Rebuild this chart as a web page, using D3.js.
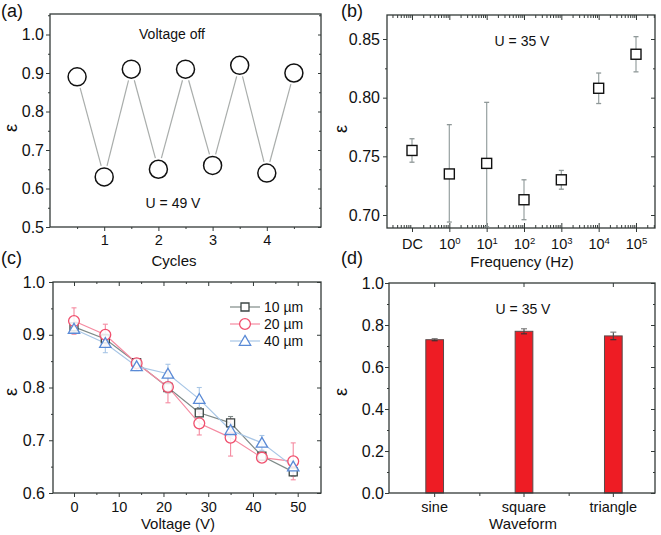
<!DOCTYPE html>
<html><head><meta charset="utf-8">
<script src="https://cdn.jsdelivr.net/npm/d3@7"></script>
<style>body{margin:0;background:#fff}</style>
</head><body><svg id="c" width="661" height="535"></svg>
<script>
// ---------- data ----------
// (a) cycling
const cycleX = [0.5, 1, 1.5, 2, 2.5, 3, 3.5, 4, 4.5];
const cycleEps = [0.89, 0.63, 0.91, 0.65, 0.91, 0.66, 0.92, 0.64, 0.90];
const cycleTicks = [1, 2, 3, 4];
const cycleYTicks = [0.5, 0.6, 0.7, 0.8, 0.9, 1.0];
// (b) frequency (DC is drawn in the 10^-1 slot)
const freqLabels = ["DC", "0", "1", "2", "3", "4", "5"];
const freqHz = [0.1, 1, 10, 100, 1000, 10000, 100000];
const freqEps = [0.755, 0.735, 0.744, 0.713, 0.730, 0.808, 0.837];
const freqErrLo = [0.745, 0.694, 0.690, 0.696, 0.722, 0.795, 0.822];
const freqErrHi = [0.765, 0.777, 0.796, 0.730, 0.738, 0.821, 0.852];
const freqYTicks = [0.70, 0.75, 0.80, 0.85];
// (c) voltage
const voltages = [0, 7, 14, 21, 28, 35, 42, 49];
const thicknessLabels = ["10 µm", "20 µm", "40 µm"];
const eps10 = [0.915, 0.892, 0.847, 0.800, 0.752, 0.733, 0.670, 0.640];
const eps20 = [0.926, 0.900, 0.846, 0.801, 0.732, 0.705, 0.667, 0.660];
const eps40 = [0.911, 0.884, 0.840, 0.826, 0.778, 0.719, 0.695, 0.650];
const err10 = [0.005, 0.005, 0.004, 0.010, 0.010, 0.012, 0.004, 0.008];
const err20 = [0.025, 0.020, 0.005, 0.030, 0.022, 0.035, 0.005, 0.035];
const err40 = [0.008, 0.018, 0.008, 0.018, 0.022, 0.012, 0.014, 0.010];
const voltXTicks = [0, 10, 20, 30, 40, 50];
const voltYTicks = [0.6, 0.7, 0.8, 0.9, 1.0];
// (d) waveform
const waveforms = ["sine", "square", "triangle"];
const waveEps = [0.730, 0.770, 0.748];
const waveErr = [0.005, 0.012, 0.018];
const waveYTicks = [0.0, 0.2, 0.4, 0.6, 0.8, 1.0];

// ---------- helpers ----------
const FONT = '"Liberation Sans", Arial, Helvetica, sans-serif';
const FRAME = "#333a38";
const svg = d3.select("#c");

function axis(orient, scale, pos, values, size, fmt, fs, pad) {
  const gen = ({left: d3.axisLeft, right: d3.axisRight, top: d3.axisTop, bottom: d3.axisBottom})[orient](scale)
    .tickValues(values).tickSize(size).tickSizeOuter(0)
    .tickFormat(fmt || (() => "")).tickPadding(pad == null ? 3 : pad);
  const a = svg.append("g")
    .attr("transform", (orient === "left" || orient === "right") ? `translate(${pos},0)` : `translate(0,${pos})`)
    .call(gen);
  a.select(".domain").remove();
  a.selectAll("line").attr("stroke", FRAME).attr("stroke-width", 1);
  a.selectAll("text").attr("font-size", fs || 15).attr("font-family", FONT).attr("fill", "#111");
  return a;
}
function frame(x0, x1, y0, y1) {
  svg.append("rect").attr("x", x0).attr("y", y0).attr("width", x1 - x0).attr("height", y1 - y0)
    .attr("fill", "none").attr("stroke", FRAME).attr("stroke-width", 1.3);
}
function text(x, y, s, fs, anchor) {
  return svg.append("text").attr("x", x).attr("y", y).text(s)
    .attr("font-family", FONT).attr("font-size", fs).attr("fill", "#111")
    .attr("text-anchor", anchor || "middle");
}
function yTitle(x, y) {
  svg.append("text").attr("transform", `translate(${x},${y}) rotate(-90)`)
    .attr("text-anchor", "middle").attr("dominant-baseline", "central")
    .attr("font-family", FONT).attr("font-size", 18)
    .attr("fill", "#111").text("ε");
}

// ================= (a) =================
{
  const L = 50, R = 321, T = 14, B = 227;
  const x = d3.scaleLinear().domain([0, 5]).range([L, R]);
  const y = d3.scaleLinear().domain([0.5, 1.0]).range([B, 34.5]);
  const ymin = [0.55, 0.65, 0.75, 0.85, 0.95, 1.05].filter(v => y(v) > T + 1);
  axis("left", y, L, cycleYTicks, 4, d3.format(".1f"), 16, 2);
  axis("left", y, L, ymin, 2);
  axis("right", y, R, cycleYTicks, -3);
  axis("right", y, R, ymin, -2);
  axis("bottom", x, B, cycleTicks, 4, d3.format("d"), 14.5, 4);
  axis("bottom", x, B, [0.5, 1.5, 2.5, 3.5, 4.5], 2);
  frame(L, R, T, B);
  const r = 9;
  const g = svg.append("g");
  for (let i = 0; i < cycleX.length - 1; i++) {
    const x1 = x(cycleX[i]), y1 = y(cycleEps[i]), x2 = x(cycleX[i + 1]), y2 = y(cycleEps[i + 1]);
    const len = Math.hypot(x2 - x1, y2 - y1), ux = (x2 - x1) / len, uy = (y2 - y1) / len, gap = r + 2.5;
    g.append("line").attr("x1", x1 + ux * gap).attr("y1", y1 + uy * gap)
      .attr("x2", x2 - ux * gap).attr("y2", y2 - uy * gap)
      .attr("stroke", "#a9adab").attr("stroke-width", 1.2);
  }
  g.selectAll("circle").data(cycleX).join("circle")
    .attr("cx", d => x(d)).attr("cy", (d, i) => y(cycleEps[i])).attr("r", r)
    .attr("fill", "#fff").attr("stroke", "#111").attr("stroke-width", 1.5);
  text(172, 39, "Voltage off", 14);
  text(173, 208, "U = 49 V", 14);
  text(174, 266, "Cycles", 15);
  yTitle(11, 128);
  text(1, 17, "(a)", 18, "start");
}

// ================= (b) =================
{
  const L = 387, R = 655, T = 15, B = 228;
  const x = d3.scaleLog().domain([0.1, 100000]).range([412, 636]);
  const y = d3.scaleLinear().domain([0.70, 0.85]).range([215, 39]);
  const ymin = [0.725, 0.775, 0.825];
  axis("left", y, L, freqYTicks, 4, d3.format(".2f"), 16, 3);
  axis("left", y, L, ymin, 2);
  axis("right", y, R, freqYTicks, -4);
  axis("right", y, R, ymin, -2);
  // log minor ticks
  const minors = [];
  for (let e = -2; e <= 5; e++) for (let k = 2; k <= 9; k++) {
    const v = k * Math.pow(10, e);
    if (x(v) > L + 1 && x(v) < R - 1) minors.push(v);
  }
  axis("bottom", x, B, freqHz.slice(1), -5);
  axis("bottom", x, B, minors, -3);
  axis("top", x, T, freqHz, -5);
  axis("top", x, T, minors, -3);
  const bl = axis("bottom", x, B, freqHz, 4, (d, i) => i === 0 ? freqLabels[0] : "10", 14.5, 7);
  bl.selectAll(".tick text").each(function (d, i) {
    if (i > 0) {
      d3.select(this).append("tspan").attr("dy", "-0.55em").attr("font-size", 9.5).text(freqLabels[i]);
    }
  });
  frame(L, R, T, B);
  const g = svg.append("g");
  const cw = 2.5;
  freqHz.forEach((f, i) => {
    const cx = x(f), yt = y(freqErrHi[i]), yb = Math.min(y(freqErrLo[i]), B);
    g.append("line").attr("x1", cx).attr("x2", cx).attr("y1", yt).attr("y2", yb).attr("stroke", "#9fa8a8").attr("stroke-width", 1.3);
    g.append("line").attr("x1", cx - cw).attr("x2", cx + cw).attr("y1", yt).attr("y2", yt).attr("stroke", "#8f9898").attr("stroke-width", 1.3);
    g.append("line").attr("x1", cx - cw).attr("x2", cx + cw).attr("y1", yb).attr("y2", yb).attr("stroke", "#8f9898").attr("stroke-width", 1.3);
  });
  g.selectAll("rect.pt").data(freqHz).join("rect").attr("class", "pt")
    .attr("x", d => x(d) - 5).attr("y", (d, i) => y(freqEps[i]) - 5).attr("width", 10).attr("height", 10)
    .attr("fill", "#fff").attr("stroke", "#111").attr("stroke-width", 1.4);
  text(522, 46, "U = 35 V", 14);
  text(522, 267, "Frequency (Hz)", 15);
  yTitle(341, 129);
  text(341, 17, "(b)", 18, "start");
}

// ================= (c) =================
{
  const L = 53, R = 321, T = 282, B = 493;
  const x = d3.scaleLinear().domain([0, 50]).range([74, 297.7]);
  const y = d3.scaleLinear().domain([0.6, 1.0]).range([B, T]);
  const ymin = [0.65, 0.75, 0.85, 0.95];
  const xmin = [-5, 5, 15, 25, 35, 45, 55].filter(v => x(v) > L + 1 && x(v) < R - 1);
  axis("left", y, L, voltYTicks, 4, d3.format(".1f"), 16, 4);
  axis("left", y, L, ymin, 2);
  axis("right", y, R, voltYTicks, -4);
  axis("right", y, R, ymin, -2);
  axis("bottom", x, B, voltXTicks, 4, d3.format("d"), 14.5, 5);
  axis("bottom", x, B, xmin, 2);
  axis("top", x, T, voltXTicks, -4);
  axis("top", x, T, xmin, -2);
  frame(L, R, T, B);

  const series = [
    {vals: eps10, err: err10, line: "#7f8a88", mark: "#3c4644", shape: "square"},
    {vals: eps20, err: err20, line: "#f58aa0", mark: "#f0506e", shape: "circle"},
    {vals: eps40, err: err40, line: "#a8c6e6", mark: "#5a8ad6", shape: "triangle"}
  ];
  const sym = {
    square: d3.symbol(d3.symbolSquare, 64),
    circle: d3.symbol(d3.symbolCircle, 92),
    triangle: d3.symbol(d3.symbolTriangle, 56)
  };
  const line = d3.line().x((d, i) => x(voltages[i])).y(d => y(d));
  const g = svg.append("g");
  series.forEach(s => {
    g.append("path").attr("d", line(s.vals)).attr("fill", "none").attr("stroke", s.line).attr("stroke-width", 1.2);
  });
  series.forEach(s => {
    voltages.forEach((v, i) => {
      const cx = x(v), yt = y(s.vals[i] + s.err[i]), yb = y(s.vals[i] - s.err[i]);
      g.append("line").attr("x1", cx).attr("x2", cx).attr("y1", yt).attr("y2", yb).attr("stroke", s.line).attr("stroke-width", 1.1);
      g.append("line").attr("x1", cx - 2.5).attr("x2", cx + 2.5).attr("y1", yt).attr("y2", yt).attr("stroke", s.line).attr("stroke-width", 1.1);
      g.append("line").attr("x1", cx - 2.5).attr("x2", cx + 2.5).attr("y1", yb).attr("y2", yb).attr("stroke", s.line).attr("stroke-width", 1.1);
    });
  });
  series.forEach(s => {
    g.selectAll(null).data(s.vals).join("path")
      .attr("transform", (d, i) => `translate(${x(voltages[i])},${y(d) + (s.shape === "triangle" ? 1 : 0)})`)
      .attr("d", sym[s.shape]()).attr("fill", "#fff").attr("fill-opacity", 0.85)
      .attr("stroke", s.mark).attr("stroke-width", 1.3);
  });
  // legend
  const ly = [307, 324, 341];
  series.forEach((s, i) => {
    g.append("line").attr("x1", 230).attr("x2", 260).attr("y1", ly[i]).attr("y2", ly[i]).attr("stroke", s.line).attr("stroke-width", 1.2);
    g.append("path").attr("transform", `translate(245,${ly[i] + (s.shape === "triangle" ? 1 : 0)})`)
      .attr("d", sym[s.shape]()).attr("fill", "#fff").attr("stroke", s.mark).attr("stroke-width", 1.3);
    text(264, ly[i] + 5, thicknessLabels[i], 14, "start");
  });
  text(178, 529, "Voltage (V)", 15);
  yTitle(11, 392);
  text(1, 264, "(c)", 18, "start");
}

// ================= (d) =================
{
  const L = 389, R = 655, T = 283, B = 493;
  const x = d3.scaleBand().domain(waveforms).range([390, 658]).padding(0);
  const y = d3.scaleLinear().domain([0, 1]).range([B, T]);
  const ymin = [0.1, 0.3, 0.5, 0.7, 0.9];
  axis("left", y, L, waveYTicks, 4, d3.format(".1f"), 16, 1);
  axis("left", y, L, ymin, 2);
  axis("right", y, R, waveYTicks, -4);
  axis("right", y, R, ymin, -2);
  const bx = d3.scaleLinear().domain([0, 3]).range([390, 658]);
  axis("bottom", bx, B, [1, 2], 3);
  axis("bottom", x, B, waveforms, 4, d => d, 14.5, 5);
  axis("top", x, T, waveforms, -4);
  const g = svg.append("g");
  const bw = 17.7;
  g.selectAll("rect.bar").data(waveforms).join("rect").attr("class", "bar")
    .attr("x", d => x(d) + x.bandwidth() / 2 - bw / 2).attr("width", bw)
    .attr("y", (d, i) => y(waveEps[i])).attr("height", (d, i) => B - y(waveEps[i]))
    .attr("fill", "#ee1c24").attr("stroke", "#5a4a4a").attr("stroke-width", 1);
  waveforms.forEach((w, i) => {
    const cx = x(w) + x.bandwidth() / 2, yt = y(waveEps[i] + waveErr[i]), yb = y(waveEps[i] - waveErr[i]);
    g.append("line").attr("x1", cx).attr("x2", cx).attr("y1", yt).attr("y2", yb).attr("stroke", "#444").attr("stroke-width", 1.1);
    g.append("line").attr("x1", cx - 3).attr("x2", cx + 3).attr("y1", yt).attr("y2", yt).attr("stroke", "#777").attr("stroke-width", 1.1);
    g.append("line").attr("x1", cx - 3).attr("x2", cx + 3).attr("y1", yb).attr("y2", yb).attr("stroke", "#333").attr("stroke-width", 1.1);
  });
  frame(L, R, T, B);
  text(523, 314, "U = 35 V", 14);
  text(523, 529, "Waveform", 15);
  yTitle(341, 392);
  text(341, 264, "(d)", 18, "start");
}
</script></body></html>
